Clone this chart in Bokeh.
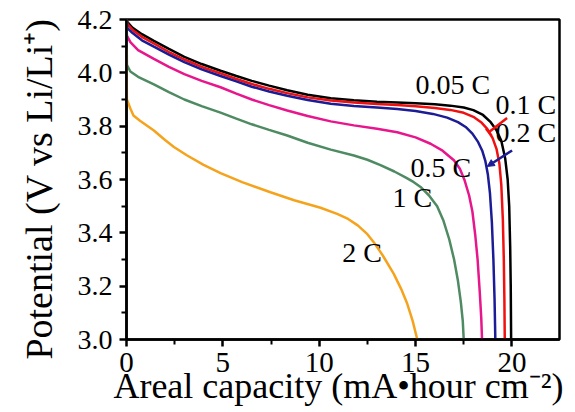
from bokeh.plotting import figure
from bokeh.models import Label, Range1d, FixedTicker, Arrow, TeeHead, NormalHead
from bokeh.embed import file_html
from bokeh.resources import INLINE

# ---- data ----
rates = ["0.05 C", "0.1 C", "0.2 C", "0.5 C", "1 C", "2 C"]

cap_005 = [0, 0.05, 0.3, 0.8, 1.42, 2.2, 3, 3.9, 4.88, 5.7, 6.5, 7.4, 8.34, 9.4, 10.6, 11.8, 13, 14.05, 15, 16,
           16.8, 17.5, 18, 18.5, 18.9, 19.2, 19.45, 19.65, 19.78, 19.86, 19.91, 19.94, 19.96]
pot_005 = [4.2, 4.19, 4.17, 4.145, 4.12, 4.09, 4.06, 4.033, 4.008, 3.988, 3.97, 3.952, 3.935, 3.918, 3.905, 3.897,
           3.892, 3.889, 3.886, 3.882, 3.877, 3.87, 3.86, 3.842, 3.815, 3.785, 3.745, 3.68, 3.6, 3.5, 3.35, 3.2, 3.0]

cap_01 = [0, 0.05, 0.3, 0.8, 1.42, 2.2, 3, 3.9, 4.88, 5.7, 6.5, 7.4, 8.34, 9.4, 10.6, 11.8, 13, 14.05, 15, 16,
          16.8, 17.5, 18, 18.4, 18.72, 19.0, 19.2, 19.35, 19.45, 19.53, 19.58, 19.61, 19.63]
pot_01 = [4.2, 4.183, 4.162, 4.135, 4.11, 4.078, 4.05, 4.022, 3.998, 3.977, 3.958, 3.94, 3.924, 3.908, 3.896, 3.889,
          3.883, 3.879, 3.875, 3.868, 3.861, 3.85, 3.835, 3.815, 3.79, 3.755, 3.715, 3.66, 3.58, 3.45, 3.3, 3.15, 3.0]

cap_02 = [0, 0.05, 0.3, 0.8, 1.42, 2.2, 3, 3.9, 4.88, 5.7, 6.5, 7.4, 8.34, 9.4, 10.6, 11.8, 13, 14.05, 15, 15.9,
          16.64, 17.2, 17.6, 17.95, 18.25, 18.46, 18.62, 18.75, 18.86, 18.96, 19.04, 19.1, 19.14]
pot_02 = [4.2, 4.168, 4.15, 4.122, 4.098, 4.068, 4.04, 4.013, 3.988, 3.968, 3.948, 3.93, 3.914, 3.898, 3.884, 3.876,
          3.87, 3.864, 3.857, 3.846, 3.832, 3.815, 3.797, 3.772, 3.74, 3.708, 3.67, 3.62, 3.55, 3.44, 3.3, 3.15, 3.0]

cap_05 = [0, 0.02, 0.2, 0.6, 1.42, 2.2, 3, 3.9, 4.88, 5.7, 6.5, 7.4, 8.34, 9.4, 10.6, 11.8, 13, 14.05, 15, 15.78,
          16.4, 16.99, 17.3, 17.55, 17.78, 17.95, 18.1, 18.22, 18.33, 18.41, 18.45]
pot_05 = [4.2, 4.14, 4.115, 4.085, 4.052, 4.022, 3.995, 3.97, 3.946, 3.922, 3.9, 3.879, 3.859, 3.838, 3.818, 3.803,
          3.79, 3.777, 3.758, 3.734, 3.708, 3.672, 3.64, 3.596, 3.54, 3.48, 3.39, 3.3, 3.18, 3.08, 3.0]

cap_1 = [0, 0.02, 0.2, 0.6, 1.42, 2.2, 3, 3.9, 4.88, 5.7, 6.5, 7.4, 8.34, 9.4, 10.6, 11.8, 12.5, 13.18, 13.9, 14.5,
         14.91, 15.26, 15.7, 16.12, 16.45, 16.75, 17.0, 17.2, 17.35, 17.45, 17.5]
pot_1 = [4.2, 4.03, 4.005, 3.985, 3.957, 3.928, 3.9, 3.875, 3.851, 3.828, 3.807, 3.786, 3.765, 3.738, 3.712, 3.69,
         3.674, 3.654, 3.63, 3.607, 3.59, 3.572, 3.54, 3.5, 3.445, 3.375, 3.3, 3.22, 3.14, 3.07, 3.0]

cap_2 = [0, 0.02, 0.2, 0.36, 0.7, 1.42, 2.0, 2.46, 3.15, 4.0, 4.88, 6.0, 7.47, 8.7, 10.07, 10.93, 11.5, 12.0, 12.5,
         12.83, 13.3, 13.87, 14.25, 14.57, 14.85, 15.09]
pot_2 = [4.09, 3.9, 3.866, 3.84, 3.82, 3.784, 3.748, 3.722, 3.69, 3.655, 3.624, 3.59, 3.552, 3.522, 3.494, 3.471,
         3.452, 3.428, 3.395, 3.365, 3.315, 3.246, 3.19, 3.134, 3.07, 3.0]

caps = [cap_005, cap_01, cap_02, cap_05, cap_1, cap_2]
pots = [pot_005, pot_01, pot_02, pot_05, pot_1, pot_2]

x_ticks = [0, 5, 10, 15, 20]
x_minor = [2.5, 7.5, 12.5, 17.5, 22.5]
y_ticks = [3.0, 3.2, 3.4, 3.6, 3.8, 4.0, 4.2]
y_minor = [3.1, 3.3, 3.5, 3.7, 3.9, 4.1]
y_tick_labels = {3.0: "3.0", 3.2: "3.2", 3.4: "3.4", 3.6: "3.6", 3.8: "3.8", 4.0: "4.0", 4.2: "4.2"}

x_title = "Areal capacity (mA\u2022hour cm\u207b\u00b2)"
y_title = "Potential (V vs Li/Li\u207a)"

colors = ["#000000", "#f01010", "#1c1c96", "#e8168c", "#4e8a62", "#f5a31c"]
FONT = "Liberation Serif"

p = figure(width=575, height=412, output_backend="svg", toolbar_location=None,
           x_range=Range1d(0, 22.47), y_range=Range1d(3.0, 4.2),
           min_border_left=126, min_border_right=16, min_border_top=19, min_border_bottom=73)
p.grid.visible = False
p.background_fill_color = "white"
p.border_fill_color = "white"
p.outline_line_color = "black"
p.outline_line_width = 2.5

for c, v, col in zip(caps, pots, colors):
    p.line(c, v, line_color=col, line_width=2.5)

# axes
p.xaxis.ticker = FixedTicker(ticks=x_ticks, minor_ticks=x_minor)
p.yaxis.ticker = FixedTicker(ticks=y_ticks, minor_ticks=y_minor)
p.yaxis.major_label_overrides = y_tick_labels
for ax in (p.xaxis, p.yaxis):
    ax.axis_line_width = 2.5
    ax.axis_line_color = "black"
    ax.major_tick_line_width = 2.5
    ax.minor_tick_line_width = 2
    ax.major_tick_out = 7
    ax.major_tick_in = 0
    ax.minor_tick_out = 5
    ax.minor_tick_in = 0
    ax.major_label_text_font = FONT
    ax.major_label_text_color = "black"
    ax.axis_label_text_font = FONT
    ax.axis_label_text_font_style = "normal"
    ax.axis_label_text_color = "black"
p.xaxis.major_label_text_font_size = "29px"
p.yaxis.major_label_text_font_size = "28px"
p.xaxis.major_label_standoff = 6
p.yaxis.major_label_standoff = 7

p.xaxis.axis_label = x_title + "\u00a0"
p.xaxis.axis_label_text_font_size = "36px"
p.xaxis.axis_label_standoff = -9
p.yaxis.axis_label = y_title + "\u00a0\u00a0"
p.yaxis.axis_label_text_font_size = "38px"
p.yaxis.axis_label_standoff = 15

# curve labels
label_pos = [(15.0, 3.955), (19.15, 3.88), (19.15, 3.775), (14.74, 3.644), (13.8, 3.531), (11.2, 3.325)]
for name, (lx, ly) in zip(rates, label_pos):
    p.add_layout(Label(x=lx, y=ly, text=name, text_font=FONT, text_font_size="28px",
                       text_align="left", text_baseline="alphabetic", text_color="black"))

# pointers
p.add_layout(Arrow(x_start=19.75, y_start=3.831, x_end=18.8, y_end=3.777,
                   line_color=colors[1], line_width=2.5,
                   end=TeeHead(size=9, line_color=colors[1], line_width=2.5)))
p.add_layout(Arrow(x_start=20.01, y_start=3.709, x_end=18.72, y_end=3.649,
                   line_color=colors[2], line_width=2.5,
                   end=NormalHead(size=7, line_color=colors[2], fill_color=colors[2])))

open("out.html", "w").write(file_html(p, INLINE))
